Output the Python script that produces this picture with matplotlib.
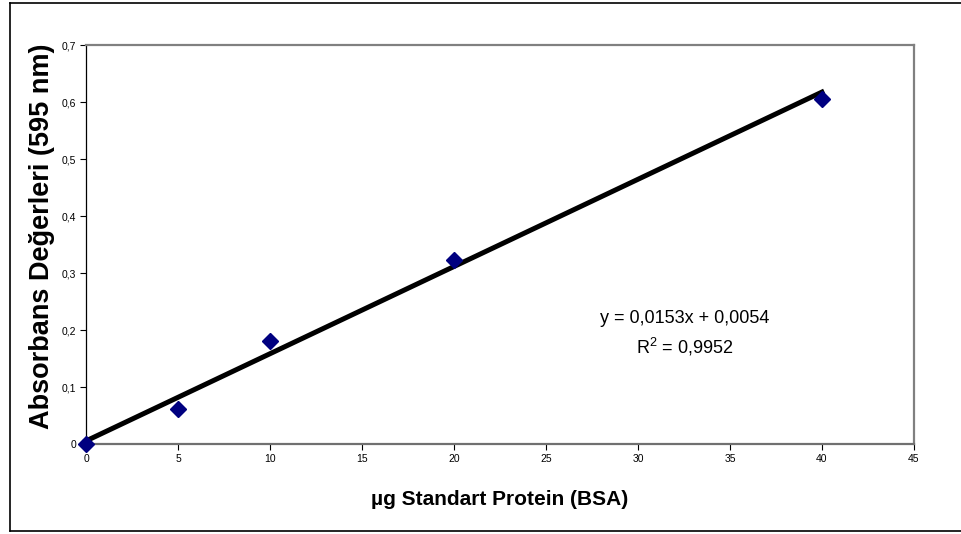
import numpy as np
import matplotlib.pyplot as plt
from matplotlib.lines import Line2D
from matplotlib.ticker import FuncFormatter, MultipleLocator

plt.rcParams['font.family'] = ['Liberation Sans', 'DejaVu Sans']
plt.rcParams['mathtext.fontset'] = 'custom'
plt.rcParams['mathtext.rm'] = 'Liberation Sans'

# measured standards
protein_ug = [0, 5, 10, 20, 40]
absorbance = [0.0, 0.062, 0.180, 0.323, 0.606]

# linear fit as reported on the chart
slope = 0.0153
intercept = 0.0054
r_squared = 0.9952


def comma_fmt(v, pos):
    if abs(v) < 1e-9:
        return "0"
    return f"{v:.1f}".replace(".", ",")


fig = plt.figure(figsize=(9.62, 5.34), dpi=100)
ax = fig.add_axes([0.0894, 0.1685, 0.8606, 0.7472])

# trend line over the data range
xs = np.array([min(protein_ug), max(protein_ug)])
ax.plot(xs, slope * xs + intercept, color="black", lw=3.6, zorder=2,
        clip_on=False)
ax.plot(protein_ug, absorbance, ls="none", marker="D", ms=8.5,
        color="#000080", mec="#000080", zorder=3, clip_on=False)

ax.set_xlim(0, 45)
ax.set_ylim(0, 0.7)
ax.xaxis.set_major_locator(MultipleLocator(5))
ax.yaxis.set_major_locator(MultipleLocator(0.1))
ax.yaxis.set_major_formatter(FuncFormatter(comma_fmt))
ax.tick_params(axis="both", labelsize=7.5, length=4, width=0.8,
               direction="out", pad=3)

for side in ["top", "right"]:
    ax.spines[side].set_color("#808080")
    ax.spines[side].set_linewidth(1.6)
ax.spines["bottom"].set_color("#707070")
ax.spines["bottom"].set_linewidth(1.6)
ax.spines["left"].set_color("black")
ax.spines["left"].set_linewidth(0.9)

ax.set_xlabel("µg Standart Protein (BSA)", fontsize=15,
              fontweight="bold", labelpad=19)
ax.set_ylabel("Absorbans Değerleri (595 nm)", fontsize=19.5,
              fontweight="bold", labelpad=5)
ax.yaxis.label.set_y(0.52)

eq = (f"y = {slope:.4f}x + {intercept:.4f}".replace(".", ",")
      + "\n" + f"R$^2$ = {r_squared:.4f}".replace(".", ","))
ax.text(0.723, 0.276, eq, transform=ax.transAxes, ha="center",
        va="center", fontsize=13, linespacing=1.5)

# outer chart-area border (left, top, bottom)
for xd, yd in [([0.0105, 0.0105], [0.006, 0.994]),
               ([0.0105, 1.0], [0.994, 0.994]),
               ([0.0105, 1.0], [0.006, 0.006])]:
    fig.add_artist(Line2D(xd, yd, transform=fig.transFigure,
                          color="black", lw=1.2))

fig.savefig("out.png", dpi=100)
